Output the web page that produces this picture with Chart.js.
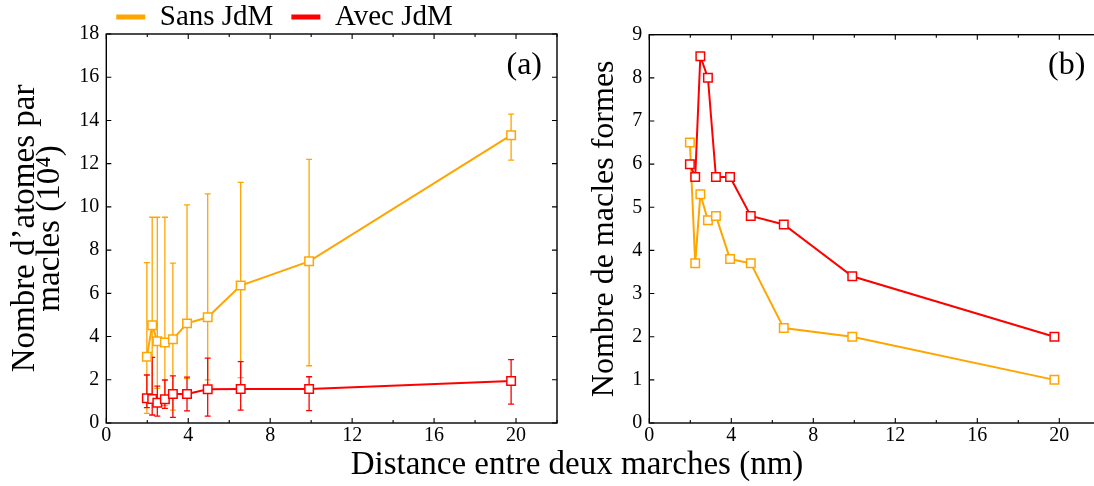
<!DOCTYPE html>
<html><head><meta charset="utf-8">
<script src="https://cdn.jsdelivr.net/npm/chart.js@4.4.1/dist/chart.umd.min.js"></script>
<style>
html,body{margin:0;padding:0;background:#fff;overflow:hidden;}
body{width:1094px;height:486px;position:relative;font-family:'Liberation Serif','Times New Roman',serif;}
.wrap{position:absolute;top:0;height:486px;}
#w1{left:0;width:580px;}
#w2{left:575px;width:545px;}
#xtitle{position:absolute;left:277px;width:600px;top:447px;text-align:center;font-size:33px;line-height:33px;color:#000;white-space:nowrap;}
</style></head><body>
<div class="wrap" id="w1"><canvas id="c1"></canvas></div>
<div class="wrap" id="w2"><canvas id="c2"></canvas></div>
<div id="xtitle">Distance entre deux marches (nm)</div>
<script>
// ---- data ----
const distances      = [1.98, 2.24, 2.49, 2.86, 3.25, 3.94, 4.95, 6.56, 9.9, 19.76];
const atomsSans      = [3.07, 4.52, 3.78, 3.72, 3.87, 4.61, 4.89, 6.36, 7.48, 13.32];
const atomsSansLow   = [0.45, 1.0, 1.6, 0.8, 0.6, 2.05, 2.0, 2.1, 2.65, 12.16];
const atomsSansHigh  = [7.42, 9.52, 9.52, 9.52, 7.4, 10.09, 10.6, 11.13, 12.2, 14.29];
const atomsAvec      = [1.14, 1.11, 0.94, 1.1, 1.34, 1.34, 1.56, 1.57, 1.57, 1.94];
const atomsAvecLow   = [0.71, 0.37, 0.32, 0.68, 0.26, 0.56, 0.32, 0.60, 0.57, 0.87];
const atomsAvecHigh  = [2.22, 3.04, 1.71, 1.99, 2.18, 2.12, 3.0, 2.84, 2.14, 2.93];
const twinsSans      = [6.5, 3.7, 5.3, 4.7, 4.8, 3.8, 3.7, 2.2, 2.0, 1.0];
const twinsAvec      = [6.0, 5.7, 8.5, 8.0, 5.7, 5.7, 4.8, 4.6, 3.4, 2.0];
const seriesLabels   = ['Sans JdM', 'Avec JdM'];
const xMajorTicks    = [0, 4, 8, 12, 16, 20];
const xMinorTicks    = [2, 6, 10, 14, 18, 22];
const yTicksA        = [0, 2, 4, 6, 8, 10, 12, 14, 16, 18];
const yTicksB        = [0, 1, 2, 3, 4, 5, 6, 7, 8, 9];

const ORANGE = '#FFA500', RED = '#FF0000';
const SERIF = "'Liberation Serif','Times New Roman',serif";
Chart.defaults.font.family = SERIF;
Chart.defaults.color = '#000';

function pts(ys){ return distances.map((d,i)=>({x:d, y:ys[i]})); }

function makeDataset(label, ys, color, order){
  return {label, data: pts(ys), borderColor: color, backgroundColor: '#fff',
    borderWidth: 2, pointStyle: 'rect', pointRadius: 6, pointBorderWidth: 1.5,
    pointBackgroundColor: '#fff', pointBorderColor: color, order, tension: 0};
}

function decorPlugin(yTicks, panelLabel, errSets){
  return {
    id: 'decor',
    beforeDatasetsDraw(chart){
      const {ctx, chartArea: a, scales: {x, y}} = chart;
      ctx.save();
      errSets.forEach(s => {
        ctx.strokeStyle = s.color; ctx.lineWidth = 1.3;
        ctx.beginPath();
        s.low.forEach((lo, i) => {
          const px = x.getPixelForValue(distances[i]);
          const p1 = y.getPixelForValue(lo), p2 = y.getPixelForValue(s.high[i]);
          ctx.moveTo(px, p1); ctx.lineTo(px, p2);
          ctx.moveTo(px-3, p1); ctx.lineTo(px+3, p1);
          ctx.moveTo(px-3, p2); ctx.lineTo(px+3, p2);
        });
        ctx.stroke();
      });
      ctx.strokeStyle = '#000'; ctx.lineWidth = 1.4;
      ctx.strokeRect(a.left, a.top, a.right - a.left, a.bottom - a.top);
      ctx.lineWidth = 1.1;
      ctx.beginPath();
      const xt = xMajorTicks.map(v=>[v,5]).concat(xMinorTicks.map(v=>[v,3]));
      xt.forEach(([v,len]) => {
        const px = x.getPixelForValue(v);
        ctx.moveTo(px, a.bottom); ctx.lineTo(px, a.bottom - len);
        ctx.moveTo(px, a.top); ctx.lineTo(px, a.top + len);
      });
      yTicks.forEach(v => {
        const py = y.getPixelForValue(v);
        ctx.moveTo(a.left, py); ctx.lineTo(a.left + 5, py);
        ctx.moveTo(a.right, py); ctx.lineTo(a.right - 5, py);
      });
      ctx.stroke();
      ctx.restore();
    },
    afterDraw(chart){
      const {ctx, chartArea: a} = chart;
      ctx.save();
      ctx.fillStyle = '#000';
      ctx.font = "32px 'Liberation Serif', serif";
      ctx.textAlign = 'right'; ctx.textBaseline = 'alphabetic';
      ctx.fillText(panelLabel, a.right - 15, a.top + 39.5);
      ctx.restore();
    }
  };
}

const legendShift = {
  id: 'legendShift',
  afterLayout(chart){ const l = chart.legend; if (l){ l.top += 7.5; l.bottom += 7.5; } }
};

const tickFont = {family: SERIF, size: 20, lineHeight: 1};

function xScale(){
  return {type: 'linear', min: 0, max: 22,
    afterBuildTicks: s => { s.ticks = xMajorTicks.map(v => ({value: v})); },
    grid: {display: false, drawTicks: false}, border: {display: false},
    ticks: {font: tickFont, padding: 3, color: '#000', maxRotation: 0},
    afterFit: s => { s.height = 40; }};
}

// ---- chart (a) ----
new Chart(document.getElementById('c1'), {
  type: 'line',
  data: {datasets: [
    makeDataset(seriesLabels[0], atomsSans, ORANGE, 1),
    makeDataset(seriesLabels[1], atomsAvec, RED, 0)
  ]},
  options: {
    responsive: true, maintainAspectRatio: false, animation: false, events: [],
    layout: {padding: {left: 12, right: 23, top: -23, bottom: 23}},
    plugins: {
      tooltip: {enabled: false},
      legend: {display: true, position: 'top', align: 'center',
        labels: {font: {family: SERIF, size: 29}, boxWidth: 29, boxHeight: 5, padding: 18, color: '#000',
          generateLabels: chart => chart.data.datasets.map((ds, i) => ({
            text: ds.label, fillStyle: ds.borderColor, strokeStyle: ds.borderColor,
            lineWidth: 0, hidden: false, datasetIndex: i, fontColor: '#000'}))}}
    },
    scales: {
      x: xScale(),
      y: {type: 'linear', min: 0, max: 18,
        afterBuildTicks: s => { s.ticks = yTicksA.map(v => ({value: v})); },
        grid: {display: false, drawTicks: false}, border: {display: false},
        ticks: {font: tickFont, padding: 7, color: '#000'},
        title: {display: true, text: ['Nombre d\u2019atomes par', 'macles (10\u2074)'],
          font: {family: SERIF, size: 33, lineHeight: 0.78}, padding: 0, color: '#000'},
        afterFit: s => { s.width = 94.3; }}
    }
  },
  plugins: [legendShift, decorPlugin(yTicksA, '(a)', [
    {color: ORANGE, low: atomsSansLow, high: atomsSansHigh},
    {color: RED, low: atomsAvecLow, high: atomsAvecHigh}
  ])]
});

// ---- chart (b) ----
new Chart(document.getElementById('c2'), {
  type: 'line',
  data: {datasets: [
    makeDataset(seriesLabels[0], twinsSans, ORANGE, 1),
    makeDataset(seriesLabels[1], twinsAvec, RED, 0)
  ]},
  options: {
    responsive: true, maintainAspectRatio: false, animation: false, events: [],
    layout: {padding: {left: 14, right: 19.7, top: 34.7, bottom: 23}},
    plugins: {tooltip: {enabled: false}, legend: {display: false}},
    scales: {
      x: xScale(),
      y: {type: 'linear', min: 0, max: 9,
        afterBuildTicks: s => { s.ticks = yTicksB.map(v => ({value: v})); },
        grid: {display: false, drawTicks: false}, border: {display: false},
        ticks: {font: tickFont, padding: 7, color: '#000'},
        title: {display: true, text: 'Nombre de macles formes',
          font: {family: SERIF, size: 32, lineHeight: 1}, padding: 0, color: '#000'},
        afterFit: s => { s.width = 60.3; }}
    }
  },
  plugins: [decorPlugin(yTicksB, '(b)', [])]
});
</script>
</body></html>
